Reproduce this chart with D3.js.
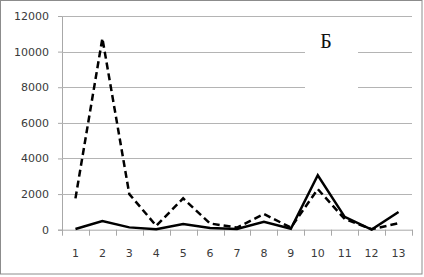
<!DOCTYPE html>
<html>
<head>
<meta charset="utf-8">
<script src="https://cdn.jsdelivr.net/npm/d3@7"></script>
<style>
  body { margin: 0; background: #fff; }
  svg { display: block; }
</style>
</head>
<body>
<svg id="chart"></svg>
<script>
const categories = ['1', '2', '3', '4', '5', '6', '7', '8', '9', '10', '11', '12', '13'];
const solidValues = [40, 480, 130, 20, 320, 100, 40, 440, 50, 3060, 720, 10, 990];
const dashedValues = [1760, 10750, 2000, 220, 1760, 350, 120, 880, 120, 2280, 600, 30, 360];
const yTicks = [0, 2000, 4000, 6000, 8000, 10000, 12000];
const panelLabel = 'Б';

const width = 424, height = 277;
const margin = { top: 16, right: 12, bottom: 47, left: 62 };
const innerW = 412 - margin.left;
const innerH = 229.7 - margin.top;

const svg = d3.select('#chart').attr('width', width).attr('height', height);

// outer frame
svg.append('rect')
  .attr('x', 0.5).attr('y', 0.5)
  .attr('width', 421.5).attr('height', 273.5)
  .attr('fill', '#fff')
  .attr('stroke', '#8c8c8c');

const g = svg.append('g').attr('transform', 'translate(' + margin.left + ',' + margin.top + ')');

const x = d3.scaleBand().domain(categories).range([0, innerW]);
const y = d3.scaleLinear().domain([0, 12000]).range([innerH, 0]);
const cx = d => x(d) + x.bandwidth() / 2;

// gridlines + y labels
const yAxis = g.append('g')
  .call(d3.axisLeft(y).tickValues(yTicks).tickSize(4).tickFormat(d3.format('d')).tickPadding(9));
yAxis.select('.domain').attr('stroke', '#a8a8a8');
yAxis.selectAll('.tick line').attr('stroke', '#a8a8a8');
yAxis.selectAll('.tick text')
  .attr('font-family', 'DejaVu Sans, sans-serif')
  .attr('font-size', 11)
  .attr('fill', '#3a3a3a');

g.append('g').selectAll('line')
  .data(yTicks.filter(d => d > 0))
  .enter().append('line')
  .attr('x1', 0).attr('x2', innerW)
  .attr('y1', d => Math.round(y(d)) + 0.5).attr('y2', d => Math.round(y(d)) + 0.5)
  .attr('stroke', '#b4b4b4');

// x axis with ticks between categories
const xAxis = g.append('g').attr('transform', 'translate(0,' + innerH + ')')
  .call(d3.axisBottom(x).tickSize(0).tickPadding(20));
xAxis.select('.domain').attr('stroke', '#a8a8a8');
xAxis.selectAll('.tick text')
  .attr('font-family', 'DejaVu Sans, sans-serif')
  .attr('font-size', 11)
  .attr('fill', '#3a3a3a');
xAxis.selectAll('.sep')
  .data(d3.range(categories.length + 1))
  .enter().append('line')
  .attr('x1', i => Math.round(i * x.step()) + 0.5)
  .attr('x2', i => Math.round(i * x.step()) + 0.5)
  .attr('y1', 0).attr('y2', 6)
  .attr('stroke', '#a8a8a8');

// white box behind panel label
svg.append('rect')
  .attr('x', 305).attr('y', 22).attr('width', 53).attr('height', 72)
  .attr('fill', '#fff');
svg.append('text')
  .attr('x', 326).attr('y', 48)
  .attr('text-anchor', 'middle')
  .attr('font-family', 'Liberation Serif, serif')
  .attr('font-size', 20)
  .attr('fill', '#111')
  .text(panelLabel);

const line = d3.line().x((d, i) => cx(categories[i])).y(d => y(d));

g.append('path')
  .datum(dashedValues)
  .attr('d', line)
  .attr('fill', 'none')
  .attr('stroke', '#000')
  .attr('stroke-width', 2.5)
  .attr('stroke-dasharray', '7,4');

g.append('path')
  .datum(solidValues)
  .attr('d', line)
  .attr('fill', 'none')
  .attr('stroke', '#000')
  .attr('stroke-width', 2.5);
</script>
</body>
</html>
